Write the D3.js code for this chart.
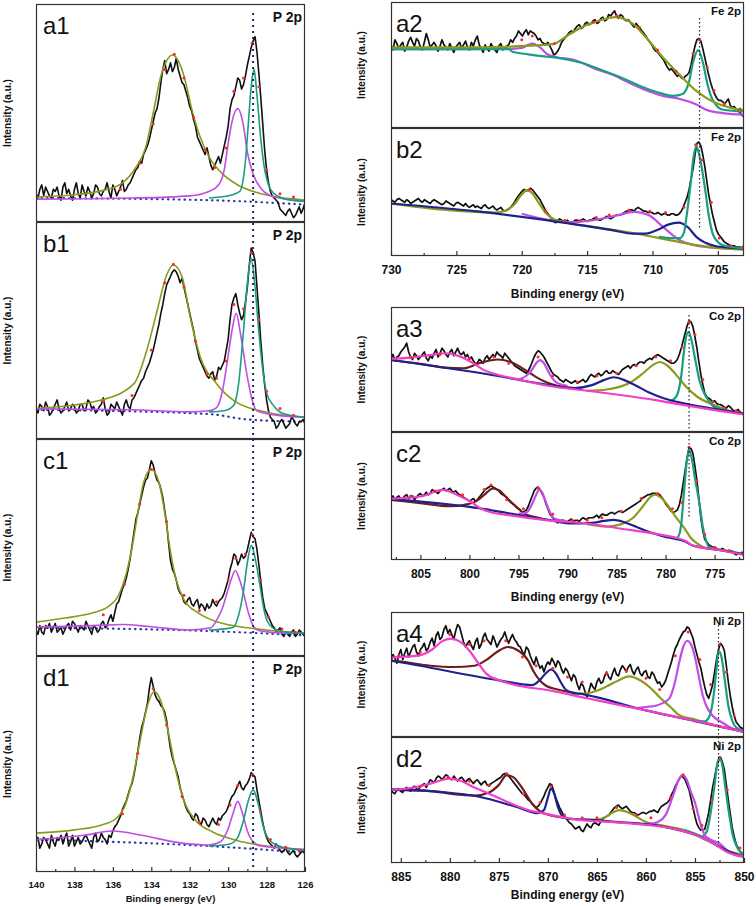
<!DOCTYPE html>
<html><head><meta charset="utf-8">
<script src="https://cdnjs.cloudflare.com/ajax/libs/d3/7.8.5/d3.min.js"></script>
<style>body{margin:0;background:#fff}svg{display:block}text{font-family:"Liberation Sans",Arial,sans-serif}</style>
</head><body><svg id="c" width="756" height="906"></svg>
<script>
// ---------------- DATA ----------------
// P 2p (140 -> 126 eV, step 0.1)
const a1_counts=[13,11,15,17,12,16,14,12,11,15,14,16,12,10,16,18,13,15,12,10,15,18,13,11,17,14,12,16,14,11,13,17,16,13,12,14,15,18,14,11,17,15,12,14,16,19,14,15,17,18,20,22,24,25,28,27,31,33,35,38,42,46,50,52,57,64,70,74,68,70,73,69,71,75,70,67,64,63,60,57,53,51,47,44,39,37,35,33,31,34,30,26,24,26,28,30,27,31,35,39,44,52,56,58,62,66,65,61,63,67,72,76,80,83,85,78,68,57,45,33,24,18,14,12,11,10,9,6,5,4,3,5,6,4,2,3,5,7,4,6,9];
const b1_counts=[14,12,16,15,13,17,15,11,12,14,16,18,14,12,13,15,17,13,14,16,15,12,13,16,16,13,14,18,17,14,15,12,13,15,16,19,14,11,12,16,15,14,17,15,13,11,16,18,15,14,18,19,21,23,25,27,28,31,33,35,38,41,45,49,53,58,62,67,71,73,75,77,78,77,75,72,74,70,66,62,58,54,50,45,41,37,35,33,31,29,28,30,31,27,29,33,32,34,36,41,46,55,62,65,67,62,58,55,57,63,70,80,88,86,82,70,58,45,34,25,18,13,10,9,8,5,6,8,9,7,5,6,7,10,9,7,6,8,8,9,7];
const c1_counts=[12,10,14,11,10,14,13,15,11,13,15,11,12,13,10,12,14,15,12,16,15,13,11,14,13,12,16,14,12,10,14,13,11,12,15,16,13,14,17,19,16,20,24,25,28,31,33,36,40,45,51,57,63,66,70,74,78,81,82,86,90,88,84,81,80,77,73,67,61,52,44,40,38,35,31,29,28,25,24,26,27,24,23,25,26,22,24,23,21,24,22,23,26,24,23,25,26,27,29,32,35,40,43,47,46,42,44,47,45,46,49,53,57,55,54,49,42,34,27,22,20,18,16,14,13,11,12,13,10,9,11,10,9,11,12,9,10,12,11,10,9];
const d1_counts=[14,16,11,13,16,15,13,11,17,14,12,16,15,17,13,16,18,12,14,17,12,14,16,13,14,16,17,15,13,11,16,18,14,15,18,16,15,13,17,16,19,21,22,24,26,29,31,33,36,39,41,45,50,56,62,67,70,74,78,85,90,86,82,80,79,77,76,74,70,63,57,53,50,47,44,39,36,33,30,28,27,25,24,27,26,23,22,25,24,22,21,23,25,23,22,25,24,26,27,28,30,33,35,36,38,40,42,39,38,40,41,43,46,45,44,38,33,28,23,19,16,14,13,12,11,13,12,10,9,10,11,9,8,9,10,8,7,8,9,10,8];

const a1_base=[[140,11],[131,10],[126,8]];
const a1_olive=[[140,11.5],[138,12.5],[136.5,14.5],[135.5,18],[134.8,25],[134.3,34],[133.9,50],[133.5,67],[133.2,74],[132.9,76.6],[132.6,74],[132.3,67],[131.9,52],[131.5,40],[131,30],[130.4,23],[129.5,17],[128.5,13.5],[127.5,11.5],[126.5,10.5],[126,10]];
const a1_violet=[[140,10.5],[135,11],[132,12],[131,14],[130.5,17],[130.2,24],[130,36],[129.8,46],[129.5,52],[129.2,44],[129,32],[128.7,22],[128.3,15.5],[127.9,12.5],[127,10.5],[126,9.5]];
const a1_teal=[[131,11],[130,12],[129.4,14],[129.1,28],[128.95,45],[128.8,62],[128.65,70],[128.5,58],[128.3,38],[128.1,24],[127.9,17],[127.6,13],[127,10.5],[126,9.5]];
const a1_env=[[135.6,15],[134.6,27],[133.9,45],[133.3,70],[132.8,77],[132.3,66],[131.8,48],[131.2,33],[130.7,25],[130.1,34],[129.7,60],[129.2,66],[128.75,82],[128.4,62],[128,24],[127.3,13],[126.6,11.5]];

const b1_base=[[140,13.5],[131,11.5],[129,9],[126,8]];
const b1_olive=[[140,14],[136.7,17.7],[134.9,25.5],[134.23,41],[133.7,59],[133.2,75.6],[132.85,80.2],[132.4,74.8],[131.97,56],[131.45,37.8],[130.6,25.5],[129.7,17.7],[128,12.3],[126,10]];
const b1_violet=[[140,13.9],[135,13.5],[132,12.5],[131,13],[130.6,14.5],[130.3,22],[130.06,34.7],[129.8,50],[129.58,57.9],[129.35,48],[129,28.5],[128.75,18],[128.5,13],[127.5,11],[126,10]];
const b1_teal=[[131,12.5],[130.2,13],[129.72,15.4],[129.45,26],[129.2,50],[129,72],[128.81,83.3],[128.62,72],[128.41,50],[128.2,32],[127.98,20.8],[127.6,15],[127.1,11.6],[126,10]];
const b1_env=[[136.5,17.5],[135,20],[134,41],[133.3,72],[132.85,80.5],[132.3,70],[131.7,45],[131.1,30],[130.6,28],[130.1,36],[129.7,62],[129.2,60],[128.8,86],[128.4,55],[128,22],[127.3,14],[126.6,11]];

const c1_base=[[140,13],[131,11.5],[126,9.5]];
const c1_olive=[[140,15.6],[138.5,17.5],[137,20],[136.2,23],[135.7,28],[135.3,38],[135,50],[134.7,66],[134.4,80],[134,86],[133.6,80],[133.3,66],[133,48],[132.7,35],[132.3,26],[131.5,19.5],[130.5,15.5],[129,13],[128,12],[126,10.5]];
const c1_violet=[[140,13.3],[137,14],[135.5,14.5],[134,13.5],[132,12],[130.9,13],[130.6,16.5],[130.3,22],[130.06,29],[129.85,35],[129.63,39.4],[129.4,35],[129.2,29],[128.95,20],[128.67,13.5],[128.3,11.5],[127,10.5],[126,10.5]];
const c1_teal=[[131,12],[130.2,12.5],[129.72,13.3],[129.45,19],[129.2,30],[129,43],[128.8,51],[128.55,43],[128.33,31.6],[128.15,22],[127.98,16.5],[127.6,12.5],[127,11],[126,10.5]];
const c1_env=[[136.5,19],[135.4,33],[134.6,70],[134,86],[133.2,62],[132.3,28],[131.5,21],[130.6,25],[130,35],[129.6,45],[129.1,47],[128.75,56],[128.3,35],[127.9,18],[127.2,12.5],[126.5,11]];

const d1_base=[[140,15],[131,12],[126,9]];
const d1_olive=[[140,18],[138,19.5],[136.5,22],[135.8,25],[135.4,30],[135,42],[134.6,60],[134.2,77],[133.85,83.5],[133.5,79],[133.1,64],[132.7,46],[132.3,33],[131.7,24],[130.8,18.5],[129.5,14.5],[128,12],[126,10]];
const d1_violet=[[140,15],[137.5,17],[136,19],[134.5,17],[132.5,13.5],[131,12.5],[130.4,14],[130,20],[129.75,27],[129.5,32.7],[129.25,27],[129,19],[128.7,14],[128.3,12],[127,11],[126,10.5]];
const d1_teal=[[131,12],[129.9,13],[129.5,16],[129.2,24],[128.95,33],[128.7,38],[128.45,32],[128.2,22],[127.95,16],[127.5,12.5],[126.5,10.5],[126,10]];
const d1_env=[[135.5,27],[134.7,55],[133.9,85],[133.2,68],[132.4,35],[131.5,23],[130.5,22],[129.9,31],[129.5,40],[128.75,45],[128.3,28],[127.8,15],[127,11.5],[126.3,10]];

// Fe 2p (730 -> 703 eV, step 0.15)
const a2_counts=[66,62,70,67,63,66,68,61,64,69,72,68,65,71,69,64,62,68,75,70,64,66,68,65,61,65,70,66,64,62,67,63,60,64,66,68,63,66,69,64,62,68,65,70,73,66,63,60,66,63,61,67,64,62,60,65,67,62,63,65,66,70,68,71,73,77,75,73,76,78,74,77,76,75,73,70,71,68,67,66,68,65,62,58,59,61,64,68,70,72,74,76,77,76,79,81,82,79,80,83,84,82,83,85,86,83,84,87,88,85,86,90,89,91,93,89,87,90,89,86,85,86,84,82,80,83,81,79,77,75,73,70,68,66,63,61,60,58,56,54,51,48,46,47,45,43,41,42,40,39,41,42,44,50,58,65,70,71,69,63,56,49,42,36,31,27,24,22,22,21,19,21,23,18,16,17,15,14,12,10,9];
const b2_counts=[44,43,42,44,45,44,43,42,44,43,41,42,43,44,45,43,42,44,43,42,41,43,44,43,42,41,40,41,43,42,41,40,39,41,42,41,40,39,41,39,38,39,40,38,39,38,37,39,40,38,37,38,39,37,36,37,38,36,35,36,37,38,40,42,45,47,49,51,52,51,51,53,52,50,48,46,44,41,38,35,33,31,29,27,26,28,29,28,27,27,28,26,25,27,28,28,27,28,29,28,27,28,28,29,30,29,28,28,29,30,31,30,29,30,31,32,32,32,33,34,35,35,36,36,35,37,38,37,36,35,35,34,34,34,33,33,34,33,32,33,33,32,32,33,33,32,32,33,35,38,42,46,52,60,68,79,88,89,86,79,70,59,48,40,32,26,20,17,15,13,11,10,9,8,8,8,7,7,7,6,6];

const a2_olive=[[730,64],[725,64],[721,64.5],[719,65.5],[717.6,66.5],[716.6,72.6],[715.6,79],[714.3,84.5],[712.8,88],[711.5,82.6],[710.5,72],[709.2,56],[707.9,42],[706.6,29],[705.4,21],[704,16],[703,14]];
const a2_violet=[[730,62.6],[725,62.6],[721,62.8],[720,63.5],[719.5,66],[719.2,67],[718.6,64],[718.1,59],[717.3,56],[716.2,54.5],[715.6,52.6],[714.5,47.5],[713,42],[711.7,35.5],[710.5,30],[709.2,25.5],[707.9,23],[706.6,18.4],[705.9,14.5],[704.6,11.8],[703,10.5]];
const a2_teal=[[730,62.6],[721,62.6],[720.7,60.5],[719.5,58.5],[718.1,56.6],[717.1,55.5],[715.5,52],[714,46.5],[712.5,40.5],[711,33.5],[709.5,28],[708.4,25.5],[707.7,27],[707.2,37],[706.9,52],[706.5,61.8],[706.1,50],[705.8,35],[705.4,22.5],[704.6,14.5],[703,13]];
const a2_env=[[720,70],[719.2,73],[717.5,67],[714.5,84],[712.7,89],[711,80],[709.6,62],[708.2,45],[706.9,59],[706.4,70],[705.8,48],[705.3,30],[704.5,19],[703.3,15]];

const b2_blue=[[730,41],[723.2,34.6],[718.1,28],[713,20],[711.5,17.5],[710.5,17.5],[709.6,20.5],[708.8,24.5],[708,26],[707.3,22.5],[706.6,14.5],[706,10.5],[705.2,7.8],[704,6.5],[703,5.8]];
const b2_olive=[[730,41],[722,34],[721.2,35.5],[720.6,40],[720,48],[719.6,51.6],[719.2,49],[718.7,41.5],[718.1,33],[717.5,28.5],[716.5,26],[714,22],[711,17],[708.5,12],[706,7.5],[704,5.5],[703,5]];
const b2_violet=[[720,33],[718.6,29.5],[717.5,27.5],[716.5,26.5],[715.6,26.7],[714.2,28.5],[712.8,31.5],[711.4,34.5],[710.3,32],[709.2,22.8],[707.9,12.3],[706.8,8.4],[705.4,6.5],[703,5.5]];
const b2_teal=[[709.5,15],[708.5,14],[707.9,14],[707.6,18],[707.4,30.6],[707.1,55],[706.85,78],[706.65,85.6],[706.4,78],[706,54],[705.7,32],[705.4,17.5],[705,11],[704.6,8.4],[703,6]];
const b2_env=[[719.4,52],[718.2,35],[716.7,28],[715.5,28],[714.3,30],[713.3,32],[711.8,36],[710.2,35],[709,34],[707.6,38],[706.7,87],[706.2,75],[705.5,42],[704.9,14],[704,8],[703.1,7]];

// Co 2p (808 -> 772 eV, step 0.2)
const a3_counts=[59,62,57,60,61,64,66,68,71,64,60,58,63,61,58,60,62,64,59,57,61,59,63,66,60,63,67,65,62,60,64,66,61,64,67,63,62,64,60,62,58,60,57,55,55,58,57,55,59,61,58,60,62,60,64,62,61,59,63,61,59,57,55,53,52,51,50,49,48,47,49,52,56,60,63,65,64,62,60,57,54,51,48,46,45,44,42,41,40,42,41,40,39,40,41,39,40,41,42,40,41,44,46,45,44,46,47,45,46,48,49,47,47,49,48,47,46,48,50,51,52,53,51,53,54,53,55,56,56,55,57,58,59,58,60,61,62,61,60,59,58,57,56,55,55,56,58,62,67,73,79,85,89,88,84,76,67,56,46,38,31,28,27,26,24,25,23,22,22,21,20,19,21,20,18,17,17,18,16,15,14];
const c2_counts=[48,50,47,49,50,47,48,50,51,48,49,50,47,49,51,52,50,51,53,51,52,55,54,53,52,54,55,56,54,55,56,54,53,54,52,51,50,49,48,47,46,47,48,46,47,49,51,53,55,56,57,58,57,56,55,54,52,51,50,49,47,45,44,43,41,40,39,37,38,39,42,46,50,54,56,57,55,52,49,44,40,36,34,32,31,29,30,31,31,30,30,31,32,30,31,31,30,32,33,32,32,33,33,33,34,35,33,35,36,35,35,36,37,37,36,37,38,38,37,38,39,40,41,42,43,44,45,46,48,49,50,51,51,52,52,52,51,51,49,47,44,42,40,38,37,38,39,43,50,60,70,80,88,87,83,73,62,48,33,23,16,14,12,11,10,10,9,8,8,9,8,7,7,7,7,5,4,5,5,6,5];

const a3_blue=[[808,57.6],[798,46],[792,37.7],[789.5,35],[787.5,37.5],[786.3,41.5],[785.3,43.8],[784.2,41.5],[783,37],[781.5,31],[780.2,27],[778.5,23.5],[775,18.5],[772,14.6]];
const a3_pink=[[808,58.5],[806,59.5],[804,61.5],[802.5,63],[801,60.5],[799.6,55],[798.5,49.5],[797.2,46],[795,42],[792,37],[788,33],[785,30],[781,25.5],[778.5,22],[775,17.5],[772,14]];
const a3_brown=[[808,57.6],[805,54.5],[802.5,51.5],[800.6,51],[799,55],[797.1,58],[795.5,55],[794,48],[792.5,41],[791.5,38],[789,35]];
const a3_violet=[[795,42],[794.2,45],[793.6,50],[793.2,55],[792.8,57.5],[792.4,55],[792,49],[791.5,42.5],[791.1,39.5],[790,37]];
const a3_olive=[[788,33],[786,34],[785,35.5],[783.5,40],[782.3,47],[781.3,53.5],[780.6,56],[779.8,53],[779,46.5],[778,37],[776.8,28.4],[775.1,21.7],[773.5,17],[772,15]];
const a3_teal=[[779.6,24.5],[779.2,26],[778.8,30],[778.4,45],[778.1,66],[777.8,79],[777.65,80],[777.4,75],[777,59],[776.5,40],[776,30],[775.5,24],[775.1,20.4],[774,17.5],[772,14.8]];
const a3_env=[[806,60],[803,62],[800,59],[797.5,60],[796,55],[793,60],[791.5,45],[789,40],[787,45],[785,47],[783,53],[781,60],[779.5,57],[778.3,68],[777.6,88],[777,78],[776.2,42],[775.2,24],[774,19.5],[772.8,17]];

const c2_blue=[[808,47.5],[800,41.5],[792,31.3],[789.4,28.5],[787.5,29],[786.3,30.5],[785.3,31.3],[784.2,29.5],[783,26],[781.5,21.5],[780.2,18.5],[779,16.5],[778,14.5],[777.3,11.5],[776.5,10],[775,8.4],[772,4.2]];
const c2_pink=[[808,48],[805,49.6],[802.7,54.8],[801.3,51],[799.9,45.7],[798.8,40],[797.9,37.5],[796,35],[792,31],[788,28.5],[785,25],[780,19],[779,17.5],[778,15],[777.3,11.5],[776.5,10],[775,8.4],[772,3.9]];
const c2_brown=[[808,47],[805,44.5],[802,42],[800.6,43],[799.3,46],[798.4,51.5],[797.6,56],[797,54.5],[796,47],[795,40],[794.5,36.6],[793,33],[792.1,31.3]];
const c2_violet=[[795,36],[794.2,37],[793.6,44],[793.2,51],[792.9,55],[792.6,53],[792.2,45],[791.7,36],[791.4,32.6],[790,30]];
const c2_olive=[[788,28],[786,26.1],[784.5,28],[783.3,33],[782.3,42],[781.5,49.5],[781.1,51],[780.5,49],[779.8,43],[779,34],[778,24],[777.5,18],[776.8,13],[775.8,9.1],[774,7.5],[772,4.5]];
const c2_teal=[[779.5,18],[778.9,17],[778.6,20],[778.4,28],[778.1,55],[777.85,76],[777.6,86],[777.35,80],[777,64],[776.5,41.8],[776.2,26],[775.9,16],[775.6,10.4],[774.5,8],[772,4.5]];
const c2_env=[[806,50],[803.5,54],[800.7,51],[798.5,55],[797.8,58.5],[796.2,47],[794.5,40],[793,56],[791.5,36],[789.5,31],[788,31],[786.5,33],[784.5,38],[782.5,48],[780.8,52],[779.3,40],[778.3,45],[777.6,88],[776.8,62],[776,20],[775,10],[773.5,7.5]];

// Ni 2p (886 -> 850 eV, step 0.2)
const a4_counts=[60,66,63,59,66,70,62,67,71,64,68,72,74,68,65,70,72,75,69,71,76,79,73,81,84,78,80,86,89,83,86,82,78,85,90,88,82,76,72,75,77,73,70,76,79,71,74,80,83,78,76,74,81,77,72,75,78,80,84,79,75,79,82,78,76,73,72,68,66,72,70,65,61,58,64,59,55,57,52,57,60,58,63,60,56,61,59,54,51,55,53,49,45,50,48,42,38,43,41,36,32,37,43,40,38,44,47,43,44,49,52,48,46,51,55,50,49,54,57,55,52,56,58,53,50,54,56,51,49,52,53,48,47,52,50,46,43,44,40,42,45,50,55,60,66,71,74,78,81,84,85,88,87,83,79,72,66,60,55,47,40,34,31,36,42,52,62,70,75,73,69,57,44,33,24,17,12,10,8,7,6];
const d2_counts=[58,56,55,58,59,57,56,59,60,58,57,60,61,59,58,61,62,63,60,63,66,65,64,67,69,68,66,68,70,69,67,66,69,67,65,67,68,66,64,66,67,65,63,65,66,64,62,64,65,62,61,63,64,65,66,67,68,70,71,70,69,67,65,63,61,59,57,55,54,52,50,49,47,45,44,45,47,50,53,57,60,63,62,57,52,48,44,41,38,36,34,32,31,29,27,28,29,26,25,28,31,29,28,31,32,31,30,33,35,36,37,38,40,42,44,45,46,44,43,44,45,43,41,40,40,39,38,39,40,40,39,40,41,41,42,41,40,43,45,46,47,48,50,54,57,61,64,67,69,68,66,62,58,51,44,37,31,28,26,26,27,33,40,50,60,68,76,81,84,80,74,62,50,39,28,21,15,12,9,8,8];

const a4_blue=[[886,61],[885.2,60],[875,45.3],[871.6,41.5],[870.9,45],[870.2,51],[869.7,54],[869.2,51],[868.7,44],[868.2,38],[867.5,35.5],[866.8,34.7],[860,21.3],[855,12.7],[850,4]];
const a4_pink=[[886,63.5],[885.2,64],[883.1,65.3],[881.8,70],[880.8,76.5],[879.9,78.7],[879,76.5],[878,69],[877,58],[876.3,50.7],[875,45.5],[873,41],[870.2,37.8],[866,31],[862,24.5],[858,18],[855,13],[852.5,8.5],[850,4]];
const a4_brown=[[886,61],[885.2,60.5],[882,57],[879.6,56],[877.5,57],[876.3,61.5],[875.2,68],[874.1,72],[873,69],[872,61],[871.5,53],[870.2,41],[869,38],[867.5,35.5]];
const a4_olive=[[867.5,34.5],[866,35],[865,37],[864,40.5],[863,44.5],[861.7,48.5],[860.5,45],[859.5,39],[858.5,31],[857.5,24],[856.6,17.5],[855,14],[853.2,10],[851.5,7],[850,5]];
const a4_violet=[[861,23],[860,24],[859,25],[858.2,27.5],[857.6,31],[857.1,42],[856.6,60],[856.2,72],[855.8,77],[855.4,74],[855,64],[854.6,48],[854.2,33],[853.9,26],[853.2,17],[852.3,12],[851.5,8],[850.5,5],[850,4.5]];
const a4_teal=[[855,13],[854,12.5],[853.5,17],[853.1,33],[852.8,55],[852.6,69],[852.3,64],[852,48],[851.6,25],[851.2,13],[850.7,7],[850,5]];
const a4_env=[[885.2,65],[883,68],[880,82],[878,74],[876.5,77],[874.3,77],[872.6,64],[871.2,57],[869.5,55],[868,48],[866.5,44],[864,51],[862,53],[860,47],[858.6,38],[857,65],[855.7,84],[854.5,62],[853.4,42],[852.5,74],[851.8,52],[851,17]];

const d2_blue=[[886,58.4],[881,56.5],[877,52.6],[873,44],[871,39.5],[870.4,42],[870,52],[869.7,59],[869.4,56],[869,45],[868.5,37],[867.8,35],[866,34.5],[863.4,32.9],[858.3,29],[855,22.4],[853.2,15.8],[851.5,9],[850,5.3]];
const d2_pink=[[886,58],[884,59.5],[882,63],[880.5,66.5],[880.1,67],[879,65.5],[877.5,60],[876,55],[875.3,52.6],[873.4,46],[872,42],[870.2,39],[866.8,34.2],[863.4,32.5],[860,30.3],[856.6,26.3],[855,22.4],[853.2,15.8],[851.5,7.9],[850,5.3]];
const d2_brown=[[886,58],[882,57],[878.7,54],[877.5,53.5],[876,56],[875,62],[874.2,69.7],[873.5,68],[872.5,58],[871.6,47],[870.8,41],[869.5,37.5],[868,35.5]];
const d2_violet=[[860,30.5],[858.7,33],[858,38],[857.3,52],[856.7,65],[856.3,69.7],[855.9,67],[855.4,56],[855,48],[854.5,33],[854,22],[853.5,19],[852.5,15.5],[851.5,8.5],[850.5,5.5],[850,5]];
const d2_olive=[[866.4,34.2],[865,34.5],[864,37],[863.4,40],[862.74,42],[861.9,40.5],[860.8,36],[860,32.5],[858.5,30],[856,26],[854,20],[852,11],[850,6]];
const d2_teal=[[856,26],[855,23],[854.3,21],[853.8,25],[853.4,40],[853,62],[852.7,80],[852.5,83],[852.2,77],[851.9,60],[851.5,38],[851.2,24],[850.6,11],[850,7]];
const d2_env=[[883,61],[880.2,68],[878,65],[876,62],[874.2,71],[872.5,55],[870.8,48],[869.7,61],[868.3,38],[866.5,36],[865,36],[863,44],[861,38],[859.5,36],[857.5,52],[856.2,70],[855.2,43],[854.3,30],[853.3,50],[852.5,84],[851.7,58],[850.4,12]];

// axis ticks and reference energies
const pMajor=[140,138,136,134,132,130,128,126], pMinor=[139,137,135,133,131,129,127];
const feMajor=[730,725,720,715,710,705], feMinor=[727.5,722.5,717.5,712.5,707.5];
const coMajor=[805,800,795,790,785,780,775], coMinor=[807.5,802.5,797.5,792.5,787.5,782.5,777.5,772.5];
const niMajor=[885,880,875,870,865,860,855,850], niMinor=[882.5,877.5,872.5,867.5,862.5,857.5,852.5];
const pRef=128.7, feRef=706.4, coRef=777.6, niRef=852.6;

// ---------------- STYLE / LAYOUT ----------------
const C={black:'#101010',olive:'#8a9a1c',violet:'#c04de6',teal:'#1b9e80',blue:'#20228c',brown:'#6e1c1c',pink:'#f23ec8',red:'#ff2a2a',baseDot:'#2a3aa8',frame:'#333'};
const cols={
 P:{x0:36,x1:305,domain:[140,126],major:pMajor,minor:pMinor,axisY:872,tickFont:9.5,titleY:902,titleFont:9.5,yLabX:8,ref:pRef,refY:[13,872],refW:2,refDash:'2,4',refCol:'#1c2a5a',tagFont:14,tagDy:18,lw:1.6,dataW:1.6},
 Fe:{x0:391,x1:744,domain:[730,703],major:feMajor,minor:feMinor,axisY:256,tickFont:12,titleY:298,titleFont:12,yLabX:362,ref:feRef,refY:[18,228],refW:1.2,refDash:'1.5,2.5',refCol:'#223',tagFont:11.5,tagDy:13,lw:2.2,dataW:1.7},
 Co:{x0:391,x1:744,domain:[808,772],major:coMajor,minor:coMinor,axisY:560,tickFont:12,titleY:601,titleFont:12,yLabX:362,ref:coRef,refY:[315,518],refW:1.2,refDash:'1.5,2.5',refCol:'#223',tagFont:11.5,tagDy:13,lw:2.2,dataW:1.7},
 Ni:{x0:391,x1:744,domain:[886,850],major:niMajor,minor:niMinor,axisY:863,tickFont:12,titleY:899,titleFont:12,yLabX:362,ref:niRef,refY:[625,843],refW:1.2,refDash:'1.5,2.5',refCol:'#223',tagFont:11.5,tagDy:13,lw:2.2,dataW:1.7}
};
const dotted={dash:'0.5,5',w:2.2,cap:'round'};
const panels=[
 {col:'P',top:4,bottom:222,label:'a1',tag:'P 2p',start:140,step:0.1,counts:a1_counts,comps:[[a1_base,C.baseDot,dotted],[a1_olive,C.olive],[a1_violet,C.violet],[a1_teal,C.teal]],env:a1_env},
 {col:'P',top:222,bottom:439,label:'b1',tag:'P 2p',start:140,step:0.1,counts:b1_counts,comps:[[b1_base,C.baseDot,dotted],[b1_olive,C.olive],[b1_violet,C.violet],[b1_teal,C.teal]],env:b1_env},
 {col:'P',top:439,bottom:656,label:'c1',tag:'P 2p',start:140,step:0.1,counts:c1_counts,comps:[[c1_base,C.baseDot,dotted],[c1_olive,C.olive],[c1_violet,C.violet],[c1_teal,C.teal]],env:c1_env},
 {col:'P',top:656,bottom:872,label:'d1',tag:'P 2p',start:140,step:0.1,counts:d1_counts,comps:[[d1_base,C.baseDot,dotted],[d1_olive,C.olive],[d1_violet,C.violet],[d1_teal,C.teal]],env:d1_env},
 {col:'Fe',top:2,bottom:128,label:'a2',tag:'Fe 2p',start:730,step:0.15,counts:a2_counts,comps:[[a2_violet,C.violet],[a2_teal,C.teal],[a2_olive,C.olive]],env:a2_env},
 {col:'Fe',top:128,bottom:256,label:'b2',tag:'Fe 2p',start:730,step:0.15,counts:b2_counts,comps:[[b2_violet,C.violet],[b2_olive,C.olive],[b2_blue,C.blue],[b2_teal,C.teal]],env:b2_env},
 {col:'Co',top:307,bottom:432,label:'a3',tag:'Co 2p',start:808,step:0.2,counts:a3_counts,comps:[[a3_brown,C.brown],[a3_violet,C.violet],[a3_olive,C.olive],[a3_teal,C.teal],[a3_blue,C.blue],[a3_pink,C.pink]],env:a3_env},
 {col:'Co',top:432,bottom:560,label:'c2',tag:'Co 2p',start:808,step:0.2,counts:c2_counts,comps:[[c2_brown,C.brown],[c2_violet,C.violet],[c2_olive,C.olive],[c2_teal,C.teal],[c2_blue,C.blue],[c2_pink,C.pink]],env:c2_env},
 {col:'Ni',top:612,bottom:737,label:'a4',tag:'Ni 2p',start:886,step:0.2,counts:a4_counts,comps:[[a4_brown,C.brown],[a4_olive,C.olive],[a4_teal,C.teal],[a4_violet,C.violet],[a4_blue,C.blue],[a4_pink,C.pink]],env:a4_env},
 {col:'Ni',top:737,bottom:863,label:'d2',tag:'Ni 2p',start:886,step:0.2,counts:d2_counts,comps:[[d2_brown,C.brown],[d2_olive,C.olive],[d2_teal,C.teal],[d2_violet,C.violet],[d2_blue,C.blue],[d2_pink,C.pink]],env:d2_env}
];

// ---------------- DRAW ----------------
const svg=d3.select('#c');
const defs=svg.append('defs');
Object.values(cols).forEach(c=>{c.x=d3.scaleLinear().domain(c.domain).range([c.x0,c.x1]);});

panels.forEach((p,i)=>{
  const c=cols[p.col], x=c.x;
  const y=d3.scaleLinear().domain([0,100]).range([p.bottom,p.top]);
  const cid='clip'+i;
  defs.append('clipPath').attr('id',cid).append('rect').attr('x',c.x0).attr('y',p.top).attr('width',c.x1-c.x0).attr('height',p.bottom-p.top);
  const g=svg.append('g').attr('clip-path',`url(#${cid})`);
  const smooth=d3.line().x(d=>x(d[0])).y(d=>y(d[1])).curve(d3.curveMonotoneX);
  const raw=d3.line().x((d,k)=>x(p.start-k*p.step)).y(d=>y(d));
  p.comps.filter(cp=>cp[2]).forEach(cp=>{
    g.append('path').attr('d',smooth(cp[0])).attr('fill','none').attr('stroke',cp[1])
     .attr('stroke-width',cp[2].w).attr('stroke-dasharray',cp[2].dash).attr('stroke-linecap',cp[2].cap);
  });
  g.append('path').attr('d',raw(p.counts)).attr('fill','none').attr('stroke',C.black).attr('stroke-width',c.dataW).attr('stroke-linejoin','round');
  p.comps.filter(cp=>!cp[2]).forEach(cp=>{
    g.append('path').attr('d',smooth(cp[0])).attr('fill','none').attr('stroke',cp[1]).attr('stroke-width',c.lw).attr('stroke-linejoin','round');
  });
  g.selectAll('circle.env').data(p.env).join('circle').attr('class','env')
    .attr('cx',d=>x(d[0])).attr('cy',d=>y(d[1])).attr('r',1.5).attr('fill',C.red);
  svg.append('rect').attr('x',c.x0+0.5).attr('y',p.top+0.5).attr('width',c.x1-c.x0-1).attr('height',p.bottom-p.top-1)
    .attr('fill','none').attr('stroke',C.frame).attr('stroke-width',1.2);
  svg.append('text').attr('x',c.x0+(p.col==='P'?7:5)).attr('y',p.top+30).attr('font-size',24).attr('fill','#111').text(p.label);
  svg.append('text').attr('x',c.x1-3).attr('y',p.top+c.tagDy).attr('text-anchor','end').attr('font-weight','bold')
    .attr('font-size',c.tagFont).attr('fill','#111').text(p.tag);
  svg.append('text').attr('transform',`translate(${c.yLabX},${(p.top+p.bottom)/2}) rotate(-90)`)
    .attr('text-anchor','middle').attr('dominant-baseline','middle').attr('font-weight','bold').attr('font-size',10).attr('fill','#111').text('Intensity (a.u.)');
});

Object.values(cols).forEach(c=>{
  const gMaj=svg.append('g').attr('transform',`translate(0,${c.axisY})`)
    .call(d3.axisBottom(c.x).tickValues(c.major).tickSize(-5).tickPadding(9).tickFormat(d3.format('d')));
  gMaj.select('.domain').remove();
  gMaj.selectAll('line').attr('stroke',C.frame).attr('stroke-width',1.2);
  gMaj.selectAll('text').attr('font-size',c.tickFont).attr('font-weight','bold').attr('fill','#111')
    .attr('font-family','"Liberation Sans",Arial,sans-serif');
  const gMin=svg.append('g').attr('transform',`translate(0,${c.axisY})`)
    .call(d3.axisBottom(c.x).tickValues(c.minor).tickSize(-3).tickFormat(''));
  gMin.select('.domain').remove();
  gMin.selectAll('line').attr('stroke',C.frame).attr('stroke-width',1.2);
  svg.append('text').attr('x',(c.x0+c.x1)/2).attr('y',c.titleY).attr('text-anchor','middle').attr('font-weight','bold')
    .attr('font-size',c.titleFont).attr('fill','#111').text('Binding energy (eV)');
  svg.append('line').attr('x1',c.x(c.ref)).attr('x2',c.x(c.ref)).attr('y1',c.refY[0]).attr('y2',c.refY[1])
    .attr('stroke',c.refCol).attr('stroke-width',c.refW).attr('stroke-dasharray',c.refDash);
});
</script></body></html>
